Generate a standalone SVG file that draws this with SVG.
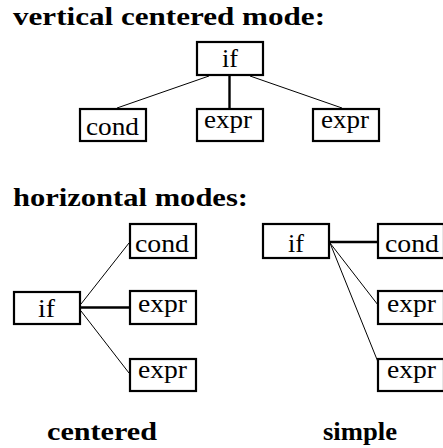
<svg xmlns="http://www.w3.org/2000/svg" width="443" height="448" viewBox="0 0 443 448">
<style>
.box{fill:#fff;stroke:#000;stroke-width:2.2}
.t{font-family:'Liberation Serif','DejaVu Serif',serif;font-size:26px;fill:#000}
.h{font-family:'Liberation Serif','DejaVu Serif',serif;font-size:25px;font-weight:bold;fill:#000}
.thin{stroke:#000;stroke-width:1;fill:none}
.thick{stroke:#000;stroke-width:2.4;fill:none}
</style>
<rect width="443" height="448" fill="#fff"/>
<text class="h" x="13" y="25" textLength="312" lengthAdjust="spacingAndGlyphs">vertical centered mode:</text>
<text class="h" x="13" y="206" textLength="235" lengthAdjust="spacingAndGlyphs">horizontal modes:</text>
<text class="h" x="47" y="440" textLength="110" lengthAdjust="spacingAndGlyphs">centered</text>
<text class="h" x="323" y="440" textLength="74" lengthAdjust="spacingAndGlyphs">simple</text>
<g id="connectors">
<line class="thin" x1="209" y1="76" x2="117" y2="108"/>
<line class="thick" x1="229.5" y1="76" x2="229.5" y2="108"/>
<line class="thin" x1="250" y1="76" x2="342" y2="108"/>
<line class="thin" x1="81" y1="304" x2="129" y2="243"/>
<line class="thick" x1="81" y1="307.5" x2="129" y2="307.5"/>
<line class="thin" x1="81" y1="311" x2="129" y2="373"/>
<line class="thick" x1="330" y1="242" x2="378" y2="242"/>
<line class="thin" x1="330" y1="243" x2="378" y2="305"/>
<line class="thin" x1="330" y1="243" x2="378" y2="362"/>
</g>
<g id="v-if"><rect class="box" x="197" y="42" width="66" height="33"/><text class="t" x="222" y="67" textLength="16" lengthAdjust="spacingAndGlyphs">if</text></g>
<g id="v-cond"><rect class="box" x="80" y="109" width="66" height="32"/><text class="t" x="86" y="135" textLength="53" lengthAdjust="spacingAndGlyphs">cond</text></g>
<g id="v-expr1"><rect class="box" x="197" y="109" width="66" height="32"/><text class="t" x="204" y="128" textLength="48" lengthAdjust="spacingAndGlyphs">expr</text></g>
<g id="v-expr2"><rect class="box" x="313" y="109" width="66" height="32"/><text class="t" x="321" y="128" textLength="48" lengthAdjust="spacingAndGlyphs">expr</text></g>
<g id="c-cond"><rect class="box" x="130" y="224" width="66" height="34"/><text class="t" x="135" y="252" textLength="54" lengthAdjust="spacingAndGlyphs">cond</text></g>
<g id="c-if"><rect class="box" x="14" y="292" width="66" height="32"/><text class="t" x="38" y="317" textLength="17" lengthAdjust="spacingAndGlyphs">if</text></g>
<g id="c-expr1"><rect class="box" x="130" y="291" width="66" height="33"/><text class="t" x="138" y="312" textLength="49" lengthAdjust="spacingAndGlyphs">expr</text></g>
<g id="c-expr2"><rect class="box" x="130" y="359" width="66" height="32"/><text class="t" x="138" y="378" textLength="49" lengthAdjust="spacingAndGlyphs">expr</text></g>
<g id="s-if"><rect class="box" x="263" y="224" width="66" height="34"/><text class="t" x="288" y="252" textLength="16" lengthAdjust="spacingAndGlyphs">if</text></g>
<g id="s-cond"><rect class="box" x="378" y="224" width="66" height="34"/><text class="t" x="385" y="252" textLength="54" lengthAdjust="spacingAndGlyphs">cond</text></g>
<g id="s-expr1"><rect class="box" x="378" y="291" width="66" height="33"/><text class="t" x="387" y="312" textLength="49" lengthAdjust="spacingAndGlyphs">expr</text></g>
<g id="s-expr2"><rect class="box" x="378" y="359" width="66" height="32"/><text class="t" x="387" y="378" textLength="49" lengthAdjust="spacingAndGlyphs">expr</text></g>
</svg>
